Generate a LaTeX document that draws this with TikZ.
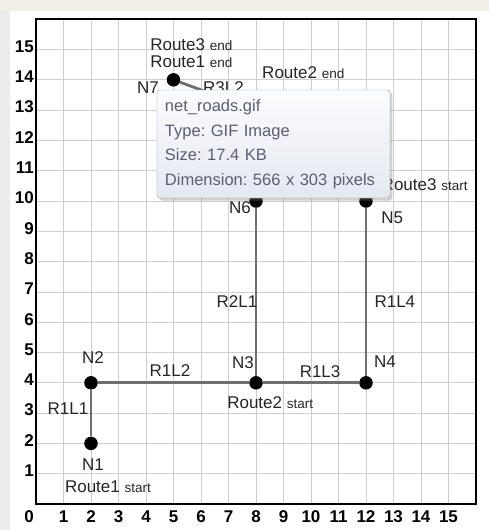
\documentclass[tikz,border=0pt]{standalone}
\usepackage{fontspec}
\setmainfont{Liberation Sans}
\usepackage{xcolor}
\usetikzlibrary{positioning,shadows}

\definecolor{roadgray}{HTML}{6E6E6E}
\definecolor{gridgray}{HTML}{CFCFCF}
\definecolor{tipborder}{HTML}{9C9C9C}
\definecolor{tiptop}{HTML}{FBFCFE}
\definecolor{tipbottom}{HTML}{E4E8F1}
\definecolor{tiptext}{HTML}{5A6070}
\definecolor{winbeige}{HTML}{F1EFE6}
\definecolor{wingray}{HTML}{ECECEC}

\newcommand{\smalltxt}[1]{{\fontsize{13.5}{15}\selectfont #1}}
\frenchspacing

\begin{document}
\begin{tikzpicture}[
  x=27.5pt, y=30.3pt,
  dot/.style   ={circle, fill=black, inner sep=0pt, minimum size=13.5pt},
  lbl/.style   ={font=\fontsize{17}{19}\selectfont, text=black!85, inner sep=0pt},
  axlbl/.style ={font=\fontsize{17}{19}\selectfont\bfseries, inner sep=0pt},
  road/.style  ={draw=roadgray, line width=2.8pt},
  tipbox/.style={draw=tipborder, rounded corners=3pt,
                 top color=tiptop, bottom color=tipbottom,
                 drop shadow={shadow xshift=2.5pt, shadow yshift=-2.5pt, opacity=0.35},
                 minimum width=233pt, minimum height=108pt,
                 text width=217pt, inner xsep=8pt, align=left,
                 font=\fontsize{16.5}{24.5}\selectfont, text=tiptext}
]
\useasboundingbox (-1.309,-0.858) rectangle (16.473,16.634);

%% ---- Window background -------------------------------------------
\fill[white]    (-1.309,-0.858) rectangle (16.473,16.634);
\fill[wingray]  (-1.309,-0.858) rectangle (-0.945,16.634);
\fill[winbeige] (-1.309,16.27)  rectangle (16.473,16.634);

%% ---- Grid and frame ----------------------------------------------
\draw[gridgray, line width=0.8pt, step=1] (0,0) grid (16,16);
\draw[line width=2.4pt] (0,0) rectangle (16,16);

%% ---- Axis numbers ------------------------------------------------
\node[axlbl] (x0) at (-0.25,-0.43) {0};
\foreach \k in {1,...,15}
  \node[axlbl] (x\k) at (\k,-0.43) {\k};
\foreach \k in {1,...,15}
  \node[axlbl, anchor=east] (y\k) at (-0.07,\k+0.1) {\k};

%% ---- Network nodes -----------------------------------------------
\node[dot] (N1) at (2,2)  {};
\node[dot] (N2) at (2,4)  {};
\node[dot] (N3) at (8,4)  {};
\node[dot] (N4) at (12,4) {};
\node[dot] (N5) at (12,10) {};
\node[dot] (N6) at (8,10) {};
\node[dot] (N7) at (5,14) {};
\node[dot] (N8) at (8,13) {};

%% ---- Roads -------------------------------------------------------
\draw[road] (N1) -- (N2);
\draw[road] (N2) -- (N3);
\draw[road] (N3) -- (N4);
\draw[road] (N4) -- (N5);
\draw[road] (N3) -- (N6);
\draw[road] (N7) -- (N8);

%% ---- Node names --------------------------------------------------
\node[lbl] (N1lbl) at (2.07,1.29)  {N1};
\node[lbl] (N2lbl) at (2.07,4.82)  {N2};
\node[lbl] (N3lbl) at (7.53,4.65)  {N3};
\node[lbl] (N4lbl) at (12.69,4.69) {N4};
\node[lbl] (N5lbl) at (12.95,9.44) {N5};
\node[lbl] (N6lbl) at (7.42,9.77)  {N6};
\node[lbl] (N7lbl) at (4.07,13.73) {N7};
\node[lbl] (N8lbl) at (8.8,13.4)   {N8};

%% ---- Link names --------------------------------------------------
\node[lbl] (R1L1) at (1.16,3.14)  {R1L1};
\node[lbl] (R1L2) at (4.87,4.42)  {R1L2};
\node[lbl] (R1L3) at (10.33,4.36) {R1L3};
\node[lbl] (R1L4) at (13.05,6.67) {R1L4};
\node[lbl] (R2L1) at (7.31,6.67)  {R2L1};
\node[lbl, anchor=west] (R3L2) at (6.07,13.73) {R3L2};

%% ---- Route ends --------------------------------------------------
\node[lbl, anchor=west] (r1start) at (1.05,0.56)   {Route1 \smalltxt{start}};
\node[lbl, anchor=west] (r2start) at (6.95,3.33)   {Route2 \smalltxt{start}};
\node[lbl, anchor=east] (r3start) at (15.7,10.53)  {Route3 \smalltxt{start}};
\node[lbl, anchor=west] (r3end)   at (4.15,15.15)  {Route3 \smalltxt{end}};
\node[lbl, anchor=west] (r1end)   at (4.15,14.59)  {Route1 \smalltxt{end}};
\node[lbl, anchor=west] (r2end)   at (8.22,14.22)  {Route2 \smalltxt{end}};

%% ---- File tooltip ------------------------------------------------
\node[tipbox] (tip) at (8.636,11.88)
  {net\_roads.gif\\Type: GIF Image\\Size: 17.4 KB\\Dimension: 566 x 303 pixels};

\end{tikzpicture}
\end{document}
